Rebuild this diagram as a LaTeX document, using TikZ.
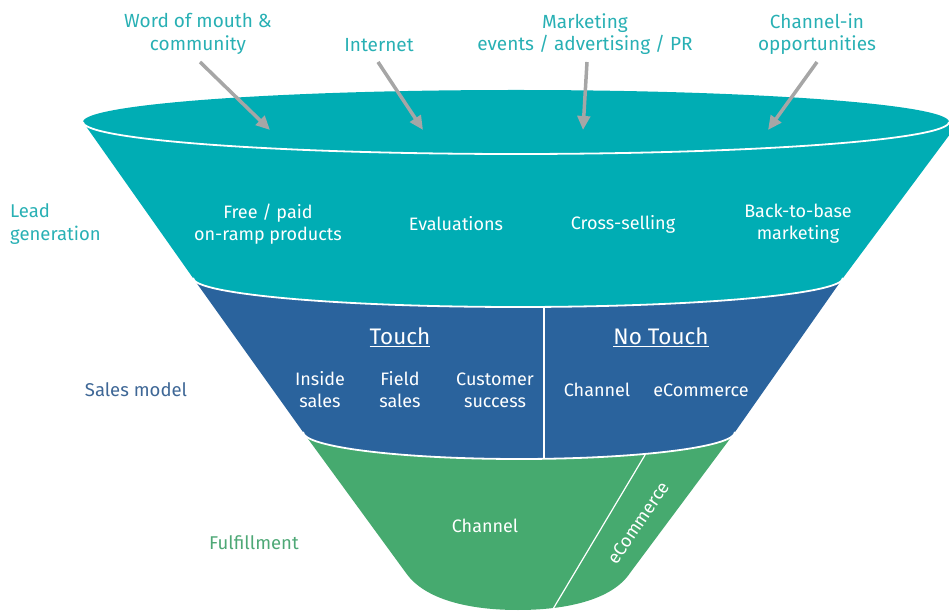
\documentclass[tikz,border=0pt]{standalone}
\usepackage{fontspec}
\setmainfont{Fira Sans}
\usetikzlibrary{arrows.meta}
\definecolor{tealf}{RGB}{0,173,180}
\definecolor{bluef}{RGB}{42,99,157}
\definecolor{greenf}{RGB}{70,170,111}
\definecolor{tealt}{RGB}{40,176,180}
\definecolor{bluet}{RGB}{62,103,150}
\definecolor{greent}{RGB}{78,168,118}
\definecolor{arrowg}{RGB}{166,166,166}
\tikzset{
  lbl/.style={align=center,font=\fontsize{18}{22}\selectfont,inner sep=0pt},
  toplbl/.style={lbl,text=tealt,font=\fontsize{19}{22.5}\selectfont},
  intext/.style={lbl,text=white},
  head/.style={lbl,text=white,font=\fontsize{22.5}{26}\selectfont},
  feed/.style={draw=arrowg,line width=3.5pt,-{Triangle[length=14pt,width=12.5pt]}},
  rim/.style={draw=white,line width=1.8pt},
  sep/.style={draw=white,line width=1.2pt}
}
\begin{document}
\begin{tikzpicture}[x=1pt,y=1pt]
\useasboundingbox (0,0) rectangle (949,613);
\clip (0,0) rectangle (949,613);
% teal section
\fill[tealf] (83,491) arc[start angle=180,end angle=0,x radius=433,y radius=32] -- (959,491) -- (843,335)
  arc[start angle=0,end angle=-180,x radius=325,y radius=29] -- cycle;
% blue section
\fill[bluef] (193,335) arc[start angle=180,end angle=360,x radius=325,y radius=29] -- (735,181)
  arc[start angle=0,end angle=-180,x radius=216,y radius=27] -- cycle;
% green section
\fill[greenf] (303,181) arc[start angle=180,end angle=360,x radius=216,y radius=27] -- (630,40)
  .. controls (612,13) and (566,3) .. (518,3) .. controls (470,3) and (425,13) .. (406,40) -- cycle;
% rims and separators
\draw[rim] (83,491) arc[start angle=180,end angle=360,x radius=433,y radius=32];
\draw[rim] (193,335) arc[start angle=180,end angle=360,x radius=325,y radius=29];
\draw[rim] (303,181) arc[start angle=180,end angle=360,x radius=216,y radius=27];
\coordinate (dvt) at (544,305);
\coordinate (dvb) at (544,154);
\draw[sep] (dvt) -- (dvb);
\coordinate (dgt) at (645,158);
\coordinate (dgb) at (553,4);
\draw[sep] (dgt) -- (dgb);
% top labels
\node[toplbl] (wom) at (198,579) {Word of mouth \&\\community};
\node[toplbl] (net) at (379,568) {Internet};
\node[toplbl] (mkt) at (585,579) {Marketing\\events / advertising / PR};
\node[toplbl] (chin) at (817,579) {Channel-in\\opportunities};
\coordinate (s1) at (200,551); \coordinate (e1) at (270,483);
\coordinate (s2) at (378,551); \coordinate (e2) at (423,483);
\coordinate (s3) at (587,551); \coordinate (e3) at (583,483);
\coordinate (s4) at (817,551); \coordinate (e4) at (768,483);
\draw[feed] (s1) -- (e1);
\draw[feed] (s2) -- (e2);
\draw[feed] (s3) -- (e3);
\draw[feed] (s4) -- (e4);
% side labels
\node[toplbl,font=\fontsize{18.5}{22.5}\selectfont,align=left,anchor=west] (lead) at (10,389) {Lead\\generation};
\node[lbl,text=bluet,font=\fontsize{18.5}{22}\selectfont] (sales) at (136,223) {Sales model};
\node[lbl,text=greent,font=\fontsize{18.5}{22}\selectfont] (ful) at (254,70) {Fulfillment};
% teal texts
\node[intext] (free) at (268,389) {Free / paid\\on-ramp products};
\node[intext] (eval) at (456,389) {Evaluations};
\node[intext] (cross) at (623,389) {Cross-selling};
\node[intext] (b2b) at (798,389) {Back-to-base\\marketing};
% blue texts
\node[head] (touch) at (400,276) {\underline{Touch}};
\node[head] (notouch) at (661,276) {\underline{No Touch}};
\node[intext] (inside) at (320,223) {Inside\\sales};
\node[intext] (field) at (400,223) {Field\\sales};
\node[intext] (cust) at (495,223) {Customer\\success};
\node[intext] (chan) at (597,223) {Channel};
\node[intext] (ecom) at (701,223) {eCommerce};
% green texts
\node[intext] (gchan) at (485,87) {Channel};
\node[intext,rotate=56] (gecom) at (638,90) {eCommerce};
\end{tikzpicture}
\end{document}
